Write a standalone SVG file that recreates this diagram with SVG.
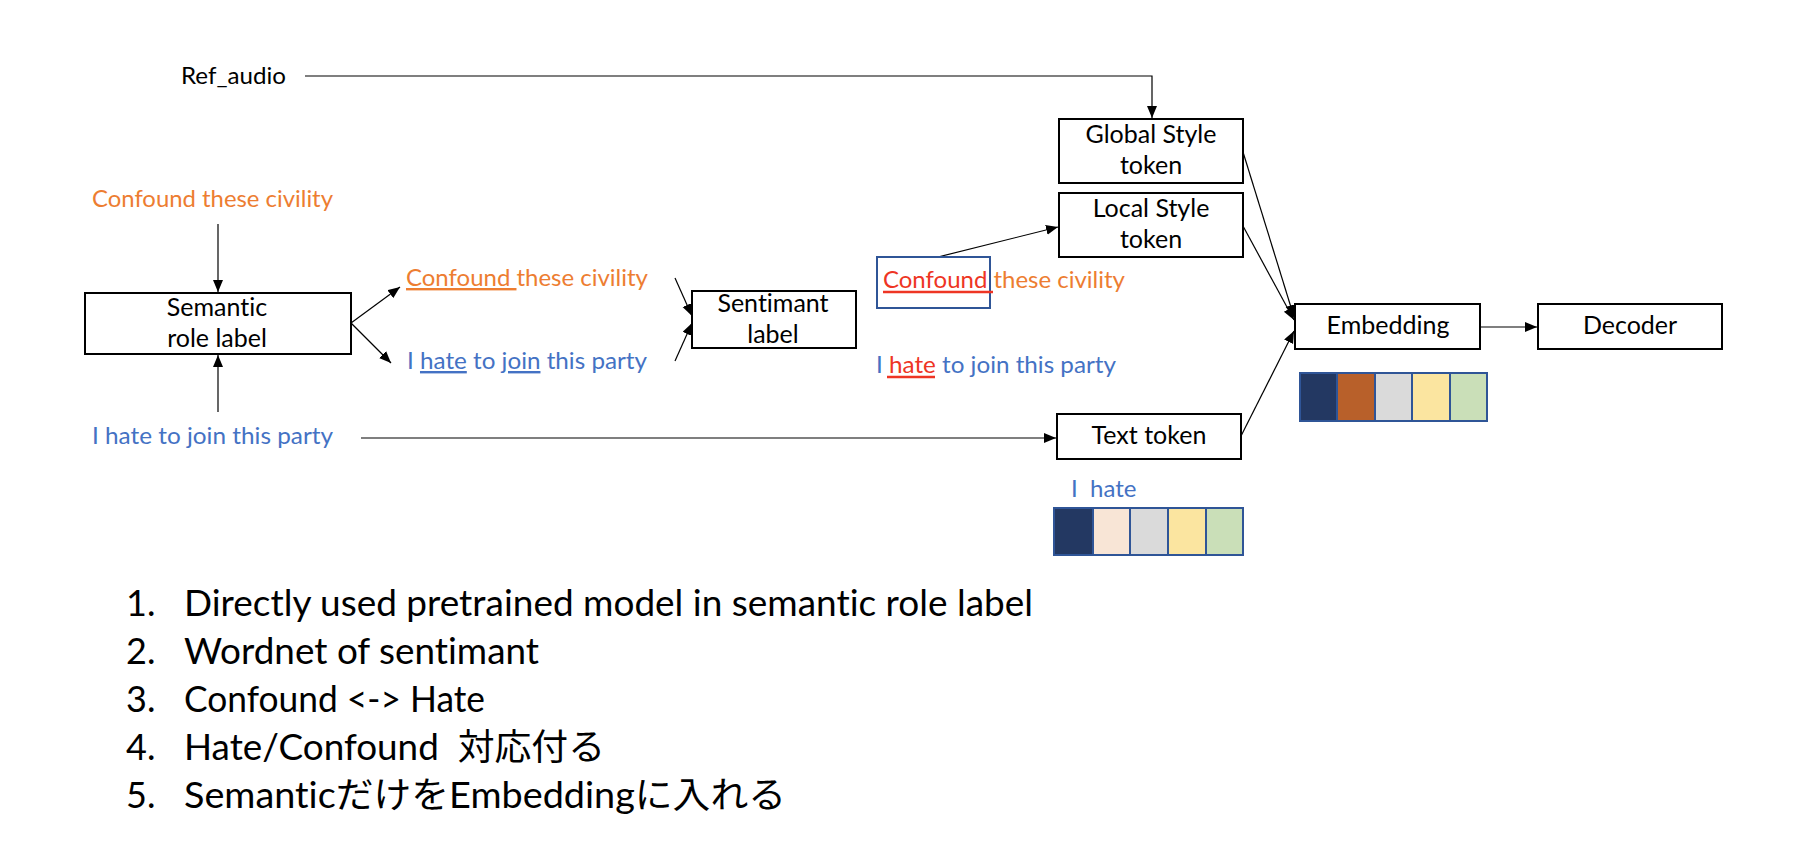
<svg xmlns="http://www.w3.org/2000/svg" width="1820" height="854" viewBox="0 0 1820 854">
<style>
  text { font-family: Lato, "Noto Sans CJK JP", sans-serif; font-variant-ligatures: none; }
  .t { font-size: 24px; }
  .bx { font-size: 25px; }
  .blk { fill: #000; }
  .or { fill: #ED7D31; }
  .bl { fill: #4472C4; }
  .rd { fill: #EE3524; }
  .box { fill: #fff; stroke: #000; stroke-width: 2; }
  .c { stroke: #000; stroke-width: 1.2; fill: none; }
  .cell { stroke: #2F5597; stroke-width: 2; }
  .lst { font-size: 36px; fill: #000; }
  .ul { text-decoration: underline; }
</style>
<defs>
  <marker id="ah" markerUnits="userSpaceOnUse" markerWidth="13" markerHeight="11" refX="12" refY="5" orient="auto">
    <path d="M0,0 L12,5 L0,10 z" fill="#000"/>
  </marker>
</defs>

<g id="connectors">
  <polyline class="c" points="305,76 1152,76 1152,118" marker-end="url(#ah)"/>
  <line class="c" x1="218" y1="224" x2="218" y2="292" marker-end="url(#ah)"/>
  <line class="c" x1="218" y1="412" x2="218" y2="355" marker-end="url(#ah)"/>
  <line class="c" x1="351" y1="323" x2="400" y2="287" marker-end="url(#ah)"/>
  <line class="c" x1="351" y1="323" x2="391" y2="363" marker-end="url(#ah)"/>
  <line class="c" x1="675" y1="278" x2="692" y2="316" marker-end="url(#ah)"/>
  <line class="c" x1="675" y1="361" x2="692" y2="323" marker-end="url(#ah)"/>
  <line class="c" x1="938" y1="257" x2="1058" y2="227" marker-end="url(#ah)"/>
  <line class="c" x1="361" y1="438" x2="1056" y2="438" marker-end="url(#ah)"/>
  <line class="c" x1="1243" y1="152" x2="1294" y2="317" marker-end="url(#ah)"/>
  <line class="c" x1="1243" y1="226" x2="1294" y2="320" marker-end="url(#ah)"/>
  <line class="c" x1="1241" y1="436" x2="1294" y2="331" marker-end="url(#ah)"/>
  <line class="c" x1="1480" y1="327" x2="1537" y2="327" marker-end="url(#ah)"/>
</g>

<g id="ref-audio">
  <text class="t blk" x="181" y="84" textLength="105" lengthAdjust="spacingAndGlyphs">Ref_audio</text>
</g>

<g id="sentence-orange-1">
  <text class="t or" x="92" y="207" textLength="241" lengthAdjust="spacingAndGlyphs">Confound these civility</text>
</g>

<g id="sentence-blue-1">
  <text class="t bl" x="92" y="444" textLength="241" lengthAdjust="spacingAndGlyphs">I hate to join this party</text>
</g>

<g id="semantic-role-label">
  <rect class="box" x="85" y="293" width="266" height="61"/>
  <text class="bx blk" x="217" y="316" text-anchor="middle">Semantic</text>
  <text class="bx blk" x="217" y="347" text-anchor="middle">role label</text>
</g>

<g id="sentence-orange-2">
  <text class="t or" x="406" y="286" textLength="242" lengthAdjust="spacingAndGlyphs"><tspan class="ul">Confound </tspan>these civility</text>
</g>

<g id="sentence-blue-2">
  <text class="t bl" x="407" y="369" textLength="240" lengthAdjust="spacingAndGlyphs">I <tspan class="ul">hate</tspan> to <tspan class="ul">join</tspan> this party</text>
</g>

<g id="sentimant-label">
  <rect class="box" x="692" y="291" width="164" height="57"/>
  <text class="bx blk" x="773" y="312" text-anchor="middle">Sentimant</text>
  <text class="bx blk" x="773" y="343" text-anchor="middle">label</text>
</g>

<g id="sentence-orange-3">
  <rect x="877" y="257" width="113" height="51" fill="none" stroke="#2F5597" stroke-width="2"/>
  <text class="t or" x="883" y="288" textLength="242" lengthAdjust="spacingAndGlyphs"><tspan class="rd">Confound </tspan>these civility</text>
  <line x1="883" y1="292" x2="993" y2="292" stroke="#EE3524" stroke-width="2.5"/>
</g>

<g id="sentence-blue-3">
  <text class="t bl" x="876" y="373" textLength="240" lengthAdjust="spacingAndGlyphs">I <tspan class="rd">hate</tspan> to join this party</text>
  <line x1="887" y1="377" x2="935" y2="377" stroke="#EE3524" stroke-width="2.5"/>
</g>

<g id="global-style-token">
  <rect class="box" x="1059" y="119" width="184" height="64"/>
  <text class="bx blk" x="1151" y="143" text-anchor="middle">Global Style</text>
  <text class="bx blk" x="1151" y="174" text-anchor="middle">token</text>
</g>

<g id="local-style-token">
  <rect class="box" x="1059" y="193" width="184" height="64"/>
  <text class="bx blk" x="1151" y="217" text-anchor="middle">Local Style</text>
  <text class="bx blk" x="1151" y="248" text-anchor="middle">token</text>
</g>

<g id="text-token">
  <rect class="box" x="1057" y="414" width="184" height="45"/>
  <text class="bx blk" x="1149" y="444" text-anchor="middle">Text token</text>
</g>

<g id="text-token-vector">
  <text class="t bl" x="1071" y="497" xml:space="preserve">I  hate</text>
  <rect class="cell" x="1054" y="508" width="39" height="47" fill="#233862"/>
  <rect class="cell" x="1093" y="508" width="37" height="47" fill="#F8E5D6"/>
  <rect class="cell" x="1130" y="508" width="38" height="47" fill="#DADADA"/>
  <rect class="cell" x="1168" y="508" width="38" height="47" fill="#FBE5A0"/>
  <rect class="cell" x="1206" y="508" width="37" height="47" fill="#CADFB8"/>
</g>

<g id="embedding">
  <rect class="box" x="1295" y="304" width="185" height="45"/>
  <text class="bx blk" x="1388" y="334" text-anchor="middle">Embedding</text>
</g>

<g id="embedding-vector">
  <rect class="cell" x="1300" y="373" width="37" height="48" fill="#233862"/>
  <rect class="cell" x="1337" y="373" width="38" height="48" fill="#B8602A"/>
  <rect class="cell" x="1375" y="373" width="37" height="48" fill="#DADADA"/>
  <rect class="cell" x="1412" y="373" width="38" height="48" fill="#FBE5A0"/>
  <rect class="cell" x="1450" y="373" width="37" height="48" fill="#CADFB8"/>
</g>

<g id="decoder">
  <rect class="box" x="1538" y="304" width="184" height="45"/>
  <text class="bx blk" x="1630" y="334" text-anchor="middle">Decoder</text>
</g>

<g id="notes">
  <text class="lst" x="126" y="616">1.</text>
  <text class="lst" x="184" y="616" textLength="849" lengthAdjust="spacingAndGlyphs">Directly used pretrained model in semantic role label</text>
  <text class="lst" x="126" y="664">2.</text>
  <text class="lst" x="184" y="664" textLength="355" lengthAdjust="spacingAndGlyphs">Wordnet of sentimant</text>
  <text class="lst" x="126" y="712">3.</text>
  <text class="lst" x="184" y="712" textLength="301" lengthAdjust="spacingAndGlyphs">Confound &lt;-&gt; Hate</text>
  <text class="lst" x="126" y="760">4.</text>
  <text class="lst" x="184" y="760" xml:space="preserve" textLength="421" lengthAdjust="spacingAndGlyphs">Hate/Confound  対応付る</text>
  <text class="lst" x="126" y="808">5.</text>
  <text class="lst" x="184" y="808" textLength="602" lengthAdjust="spacingAndGlyphs">SemanticだけをEmbeddingに入れる</text>
</g>
</svg>
